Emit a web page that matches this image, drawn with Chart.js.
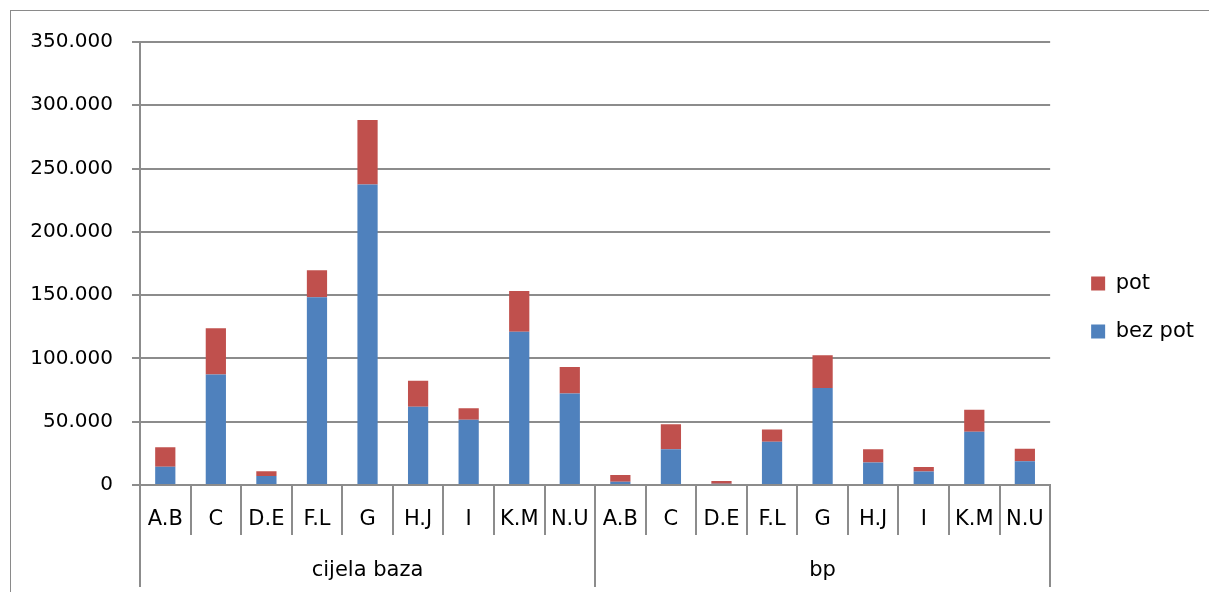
<!DOCTYPE html>
<html>
<head>
<meta charset="utf-8">
<script src="https://cdn.jsdelivr.net/npm/chart.js@4"></script>
<style>
  html, body { margin: 0; padding: 0; background: #fff; overflow: hidden; }
  #wrap { position: relative; width: 1209px; height: 592px; overflow: hidden; }
  #frame { position: absolute; left: 10px; top: 10px; width: 1300px; height: 700px; border-left: 1px solid #8a8a8a; border-top: 1px solid #8a8a8a; }
  #chart { position: absolute; left: 0; top: 0; }
</style>
</head>
<body>
<div id="wrap">
  <div id="frame"></div>
  <canvas id="chart" width="1209" height="592"></canvas>
</div>
<script>
var categoryLabels = ['A.B', 'C', 'D.E', 'F.L', 'G', 'H.J', 'I', 'K.M', 'N.U',
                      'A.B', 'C', 'D.E', 'F.L', 'G', 'H.J', 'I', 'K.M', 'N.U'];
var groupLabels = ['cijela baza', 'bp'];
var bezPot = [14500, 87400, 7100, 148300, 237500, 61900, 51600, 121100, 72200,
              2600, 28300, 1000, 34100, 76700, 17700, 10600, 42100, 18800];
var pot = [15300, 36400, 3700, 21300, 50800, 20500, 9000, 32200, 21000,
           5300, 19600, 2200, 9800, 25900, 10600, 3700, 17400, 9800];
var yTicks = [0, 50000, 100000, 150000, 200000, 250000, 300000, 350000];

var gridGray = '#8c8c8c';
var font = 'DejaVu Sans';

function fmt(v) {
    return String(v).replace(/\B(?=(\d{3})+(?!\d))/g, '.');
}

window.addEventListener('DOMContentLoaded', function() {
    new Chart(document.getElementById('chart').getContext('2d'), {
        type: 'bar',
        data: {
            labels: categoryLabels,
            datasets: [{
                label: 'bez pot',
                data: bezPot,
                backgroundColor: '#4F81BD',
                xAxisID: 'x'
            }, {
                label: 'pot',
                data: pot,
                backgroundColor: '#C0504D',
                xAxisID: 'x'
            }]
        },
        options: {
            responsive: false,
            animation: false,
            layout: { padding: { top: 28, left: 0, right: 5, bottom: 5 } },
            datasets: { bar: { barPercentage: 0.4, categoryPercentage: 1.0 } },
            plugins: {
                tooltip: { enabled: false },
                legend: {
                    position: 'right',
                    reverse: true,
                    labels: {
                        boxWidth: 14,
                        boxHeight: 14,
                        padding: 27,
                        color: '#000',
                        font: { family: font, size: 21 }
                    }
                }
            },
            scales: {
                x: {
                    stacked: true,
                    position: 'bottom',
                    weight: 0,
                    afterFit: function(s) { s.height = 50; },
                    grid: { offset: true, drawOnChartArea: false, tickLength: 50, color: gridGray, lineWidth: 2 },
                    border: { display: true, color: gridGray, width: 2 },
                    ticks: { padding: -28, maxRotation: 0, autoSkip: false, color: '#000', font: { family: font, size: 21 } }
                },
                x2: {
                    type: 'category',
                    labels: groupLabels,
                    position: 'bottom',
                    weight: 1,
                    afterFit: function(s) { s.height = 52; },
                    grid: { offset: true, drawOnChartArea: false, tickLength: 52, color: gridGray, lineWidth: 2 },
                    border: { display: false },
                    ticks: { padding: -29, maxRotation: 0, color: '#000', font: { family: font, size: 21 } }
                },
                xTop: {
                    type: 'category',
                    labels: groupLabels,
                    position: 'top',
                    display: true,
                    afterFit: function(s) { s.height = 14; },
                    grid: { display: false },
                    border: { display: false },
                    ticks: { display: false }
                },
                y: {
                    stacked: true,
                    min: 0,
                    max: 350000,
                    afterFit: function(s) { s.width = 140; },
                    afterBuildTicks: function(s) { s.ticks = yTicks.map(function(v) { return { value: v }; }); },
                    grid: { color: gridGray, lineWidth: 2, tickLength: 8 },
                    border: { display: true, color: gridGray, width: 2 },
                    ticks: { padding: 19, color: '#000', font: { family: font, size: 20 }, callback: function(v) { return fmt(v); } }
                },
                yR: {
                    position: 'right',
                    display: true,
                    afterFit: function(s) { s.width = 14; },
                    grid: { display: false },
                    border: { display: false },
                    ticks: { display: false }
                }
            }
        }
    });
});
</script>
</body>
</html>
